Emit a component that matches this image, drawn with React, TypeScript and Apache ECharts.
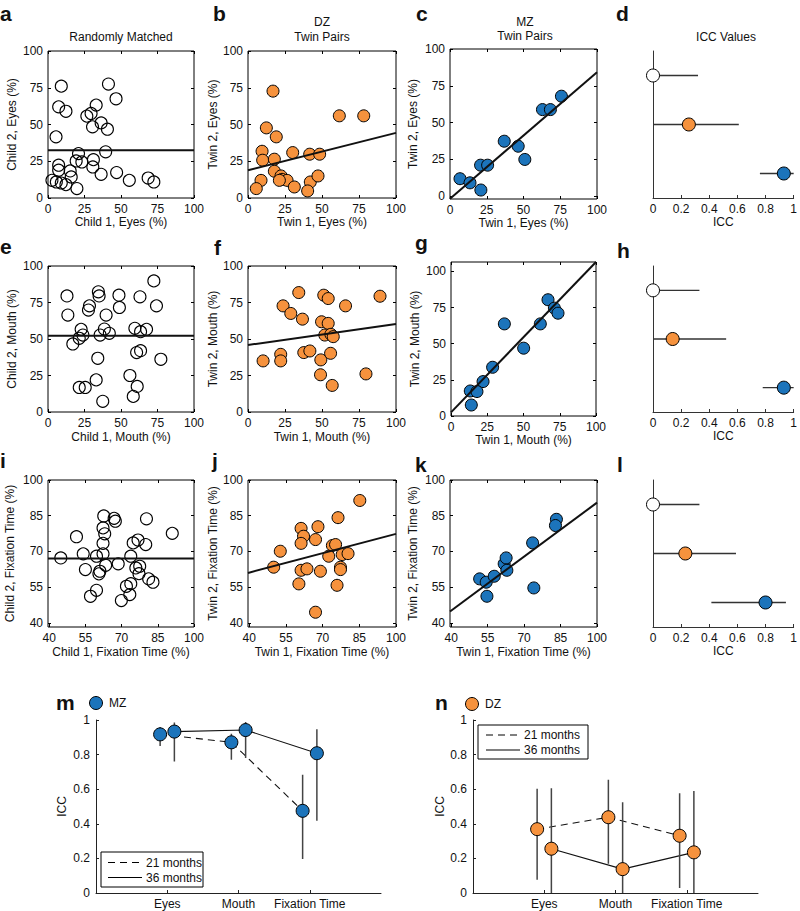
import React, { useEffect, useRef } from "react";
import * as echarts from "echarts";

const FONT = '"Liberation Sans", Arial, Helvetica, sans-serif';
const TXT = "#111";
const ORANGE = "#F6923D";
const BLUE = "#1C74BB";

// ---------- data ----------
const pctTicks = [0, 25, 50, 75, 100];
const fixTicks = [40, 55, 70, 85, 100];

const randEyes = [[9.1,76.1],[7.3,62],[12.3,59],[5.5,41.6],[41.4,77.5],[46.6,67.5],[33,63.2],[29.5,57.5],[26.6,55.7],[36.4,51.1],[30.5,48.4],[40.7,46.8],[39.5,31.4],[20.9,30.2],[31.1,26.1],[23.2,24.5],[19.3,25.2],[7.3,22.3],[7.3,18.9],[15.2,18.4],[30.7,21.1],[15.9,14.3],[36.4,16.1],[47,17.3],[2.7,12],[5.7,10.9],[9.1,10.2],[12.3,9.1],[19.8,6.4],[55.7,12],[68.6,13.6],[72.5,10.9]];
const dzEyes = [[16.9,72.7],[61.7,55.9],[78.2,55.9],[12.4,47.7],[19.1,41.6],[9.5,31.8],[9.9,25.7],[17.8,26.4],[30.2,30.9],[41.7,29.8],[48.4,29.8],[17.8,18.2],[22.3,15],[23,12.7],[26.4,12],[21.2,12],[8.8,12],[5.6,6.4],[31.3,7.5],[42.1,10.9],[47.3,15],[40.3,4.8]];
const mzEyes = [[6.8,11.8],[13.6,9],[21,4.1],[20.8,21],[25.6,21],[36.9,37.3],[46.4,33.9],[50.9,24.9],[62.9,58.8],[68.3,58.8],[75.8,67.9]];

const randMouth = [[13,79.5],[13.6,66.4],[34.5,82.3],[35,79.5],[48.6,80],[48.9,71.6],[28.4,72.7],[27.7,69.8],[39.8,66.4],[72.5,89.8],[63,78.9],[74.3,72.7],[22.7,56.6],[23.9,52.7],[21.4,50.5],[17,46.6],[35.7,52.7],[38.6,56.8],[42,53.9],[59.5,57.3],[63.4,55],[67.5,56.6],[34.1,36.8],[60.7,40.7],[63.4,42],[77.3,36.1],[21.4,16.8],[25.5,16.8],[33,22],[56.1,25],[61.1,17.5],[58.4,10.7],[37.5,7.3]];
const dzMouth = [[34.3,81.8],[23.7,72.7],[28.9,67.5],[36.8,63.6],[51.2,80],[54.2,77.7],[65.9,72.7],[89.2,79.3],[49.7,61.8],[54.2,60.7],[51.9,52.7],[56,53.2],[57.6,51.6],[10.2,35],[22.1,39.5],[22.1,35],[37.7,40.7],[41.8,41.8],[49.2,35.7],[55.8,40.2],[49,25.5],[56.9,18.2],[79.7,26.1]];
const mzMouth = [[66.9,80.4],[71.3,74.6],[73.8,71.1],[36.8,63.7],[61.6,63.7],[50.1,46.9],[28.7,33.7],[22.1,23.8],[13.3,17.3],[17.9,16.9],[14,7.6]];

const randFix = [[44.8,67.3],[51.3,76.2],[54.1,69],[55,62.4],[57.1,51.2],[59.6,53.7],[62.6,84.9],[62.3,79.9],[66.9,83.9],[67.4,82.7],[63,77.4],[62.3,73.4],[59.6,68],[62.3,69],[63.4,64.2],[61,61.7],[60.6,60.6],[68.6,64.8],[69.9,49.4],[80.3,83.7],[91,77.6],[74.8,73.6],[76.8,74.8],[80,72.9],[73.8,68],[75.9,63.1],[77.5,63.8],[77.2,60.7],[81.2,58.5],[83,57.1],[73.8,56.5],[72,55.4],[73.4,51.9]];
const dzFix = [[50,63.4],[52.7,70.1],[61.2,79.7],[62.2,76.4],[61.2,73.4],[68.1,80.4],[67.1,75],[61.2,62.1],[63.6,62.7],[69.1,61.7],[60.3,56.4],[76.3,84.2],[85.2,91.4],[74,72.5],[75.3,72.9],[72.5,68],[78,68.7],[80.4,69.1],[77.3,63.4],[77.3,62.4],[75.9,55.8],[67.1,44.5]];
const mzFix = [[51.7,58.5],[54.4,57.1],[54.7,51.2],[57.7,59.6],[61.8,64.8],[62.6,67.3],[62.9,62.1],[73.5,73.6],[74,54.7],[83.3,83.5],[82.9,80.9]];

// regression line end points
const fitRandEyes = [[0,32.5],[100,32.5]];
const fitDzEyes = [[0,18.9],[100,44.3]];
const fitMzEyes = [[0,-1.8],[100,84.2]];
const fitRandMouth = [[0,52.3],[100,52.3]];
const fitDzMouth = [[0,45.9],[100,60.2]];
const fitMzMouth = [[0,2.5],[100,106.5]];
const fitRandFix = [[39.5,67],[100,67]];
const fitDzFix = [[39.5,61],[100,77.4]];
const fitMzFix = [[39.5,44.8],[100,90.5]];

// ICC values per group: Randomly matched, DZ, MZ
const groups = ["Random", "DZ", "MZ"];
const iccEyes = [0, 0.255, 0.93];
const iccEyesLo = [0, 0, 0.76];
const iccEyesHi = [0.32, 0.61, 1.0];
const iccMouth = [0, 0.14, 0.93];
const iccMouthLo = [0, 0, 0.78];
const iccMouthHi = [0.33, 0.52, 1.0];
const iccFix = [0, 0.23, 0.8];
const iccFixLo = [0, 0, 0.415];
const iccFixHi = [0.33, 0.59, 0.945];

// ICC by age
const measures = ["Eyes", "Mouth", "Fixation Time"];
const mz21 = [0.917, 0.871, 0.475];
const mz21Lo = [0.85, 0.77, 0.196];
const mz21Hi = [0.96, 0.92, 0.683];
const mz36 = [0.933, 0.942, 0.808];
const mz36Lo = [0.76, 0.78, 0.417];
const mz36Hi = [0.985, 0.988, 0.946];
const dz21 = [0.369, 0.438, 0.331];
const dz21Lo = [0.077, 0.169, 0.029];
const dz21Hi = [0.602, 0.654, 0.577];
const dz36 = [0.256, 0.138, 0.235];
const dz36Lo = [0, 0, 0];
const dz36Hi = [0.606, 0.525, 0.59];

function buildOption() {
  const grid: any[] = [];
  const xAxis: any[] = [];
  const yAxis: any[] = [];
  const series: any[] = [];
  const graphic: any[] = [];
  const lbl = { fontSize: 12, color: TXT, fontFamily: FONT };

  const text = (t: string, x: number, y: number, opts: any = {}) => {
    graphic.push({
      type: "text",
      z: 100,
      style: {
        text: t, x, y,
        fill: TXT,
        font: opts.font || `12px ${FONT}`,
        align: opts.align || "center",
        verticalAlign: opts.va || "middle",
        textAlign: opts.align || "center",
        textVerticalAlign: opts.va || "middle",
      },
    });
  };
  const letter = (t: string, x: number, baseline: number) =>
    text(t, x, baseline + 4.5, { font: `bold 21px ${FONT}`, align: "left", va: "bottom" });

  function scatterPanel(p: any) {
    const gi = grid.length;
    grid.push({ left: p.left, top: p.top, width: p.width, height: p.height, show: true, borderColor: "#000", borderWidth: 1, backgroundColor: "transparent" });
    const xi = xAxis.length;
    const yi = yAxis.length;
    const tick = (vals: number[]) => ({ inside: true, length: 3, lineStyle: { color: "#000" }, customValues: vals });
    xAxis.push({
      gridIndex: gi, type: "value", min: p.xMin, max: p.xMax, position: "bottom",
      axisLine: { show: false, onZero: false }, axisTick: tick(p.xTicks),
      axisLabel: { ...lbl, margin: 5, customValues: p.xTicks }, splitLine: { show: false },
      name: p.xName, nameLocation: "middle", nameGap: p.xGap, nameTextStyle: { ...lbl },
    });
    xAxis.push({
      gridIndex: gi, type: "value", min: p.xMin, max: p.xMax, position: "top",
      axisLine: { show: false, onZero: false }, axisTick: tick(p.xTicks),
      axisLabel: { show: false }, splitLine: { show: false },
    });
    yAxis.push({
      gridIndex: gi, type: "value", min: p.yMin, max: p.yMax, position: "left",
      axisLine: { show: false, onZero: false }, axisTick: tick(p.yTicks),
      axisLabel: { ...lbl, margin: 5, customValues: p.yTicks }, splitLine: { show: false },
      name: p.yName, nameLocation: "middle", nameGap: p.yGap, nameTextStyle: { ...lbl },
    });
    yAxis.push({
      gridIndex: gi, type: "value", min: p.yMin, max: p.yMax, position: "right",
      axisLine: { show: false, onZero: false }, axisTick: tick(p.yTicks),
      axisLabel: { show: false }, splitLine: { show: false },
    });
    series.push({
      type: "scatter", xAxisIndex: xi, yAxisIndex: yi, data: p.points, symbolSize: 12,
      itemStyle: p.fill ? { color: p.fill, borderColor: "#000", borderWidth: 1, opacity: 1 } : { color: "rgba(255,255,255,0)", borderColor: "#000", borderWidth: 1.1, opacity: 1 },
      z: 3,
    });
    series.push({
      type: "line", xAxisIndex: xi, yAxisIndex: yi, data: p.fit, symbol: "none",
      lineStyle: { color: "#111", width: 2 }, z: 4, silent: true,
    });
  }

  function iccPanel(p: any) {
    const gi = grid.length;
    grid.push({ left: p.left, top: p.top, width: 145, height: p.height, show: false });
    const xi = xAxis.length;
    const yi = yAxis.length;
    xAxis.push({
      gridIndex: gi, type: "value", min: 0, max: 1, interval: 0.2, position: "bottom",
      axisLine: { show: true, onZero: false, lineStyle: { color: "#333", width: 1 } },
      axisTick: { inside: true, length: 3, lineStyle: { color: "#333" } },
      axisLabel: { ...lbl, margin: 5 }, splitLine: { show: false },
      name: "ICC", nameLocation: "middle", nameGap: 17, nameTextStyle: { ...lbl },
    });
    yAxis.push({
      gridIndex: gi, type: "value", min: 0, max: 3, inverse: true, position: "left",
      axisLine: { show: true, onZero: false, lineStyle: { color: "#333", width: 1 } },
      axisTick: { show: false }, axisLabel: { show: false }, splitLine: { show: false },
    });
    const fills = ["#fff", ORANGE, BLUE];
    groups.forEach((g, i) => {
      series.push({
        type: "line", name: g, xAxisIndex: xi, yAxisIndex: yi, symbol: "none",
        data: [[p.lo[i], i + 0.5], [p.hi[i], i + 0.5]],
        lineStyle: { color: "#333", width: 1.3 }, z: 2, silent: true,
      });
    });
    series.push({
      type: "scatter", xAxisIndex: xi, yAxisIndex: yi, symbolSize: 13, z: 5,
      data: groups.map((g, i) => ({ name: g, value: [p.icc[i], i + 0.5], itemStyle: { color: fills[i] } })),
      itemStyle: { borderColor: "#000", borderWidth: 1, opacity: 1 },
    });
  }

  function agePanel(p: any) {
    const gi = grid.length;
    grid.push({ left: p.left, top: 720, width: 285, height: 173, show: false });
    const xi = xAxis.length;
    const yi = yAxis.length;
    const cats = measures.map((m, i) => i + 1);
    xAxis.push({
      gridIndex: gi, type: "value", min: 0, max: 4, position: "bottom",
      axisLine: { show: true, onZero: false, lineStyle: { color: "#222", width: 1 } },
      axisTick: { inside: true, length: 3, lineStyle: { color: "#222" }, customValues: cats },
      axisLabel: { ...lbl, margin: 5, customValues: cats, formatter: (v: number) => measures[Math.round(v) - 1] || "" },
      splitLine: { show: false },
    });
    yAxis.push({
      gridIndex: gi, type: "value", min: 0, max: 1, interval: 0.2, position: "left",
      axisLine: { show: true, onZero: false, lineStyle: { color: "#222", width: 1 } },
      axisTick: { inside: true, length: 3, lineStyle: { color: "#222" } },
      axisLabel: { ...lbl, margin: 6 }, splitLine: { show: false },
      name: "ICC", nameLocation: "middle", nameGap: p.yGap, nameTextStyle: { ...lbl },
    });
    const off = 0.1;
    const p21 = measures.map((m, i) => [i + 1 - off, p.v21[i]]);
    const p36 = measures.map((m, i) => [i + 1 + off, p.v36[i]]);
    series.push({
      type: "line", name: "21 months", xAxisIndex: xi, yAxisIndex: yi, data: p21, symbol: "none",
      lineStyle: { color: "#111", width: 1.1, type: [7, 5] }, z: 2, silent: true,
    });
    series.push({
      type: "line", name: "36 months", xAxisIndex: xi, yAxisIndex: yi, data: p36, symbol: "none",
      lineStyle: { color: "#111", width: 1.1 }, z: 2, silent: true,
    });
    measures.forEach((m, i) => {
      series.push({
        type: "line", xAxisIndex: xi, yAxisIndex: yi, symbol: "none",
        data: [[i + 1 - off, p.lo21[i]], [i + 1 - off, p.hi21[i]]],
        lineStyle: { color: "#444", width: 1.5 }, z: 3, silent: true,
      });
      series.push({
        type: "line", xAxisIndex: xi, yAxisIndex: yi, symbol: "none",
        data: [[i + 1 + off, p.lo36[i]], [i + 1 + off, p.hi36[i]]],
        lineStyle: { color: "#444", width: 1.5 }, z: 3, silent: true,
      });
    });
    series.push({
      type: "scatter", xAxisIndex: xi, yAxisIndex: yi, symbolSize: 13, z: 5,
      data: [...p21, ...p36],
      itemStyle: { color: p.color, borderColor: "#000", borderWidth: 1, opacity: 1 },
    });
  }

  // Row 1: eyes
  scatterPanel({ left: 48, top: 51, width: 146, height: 147, xMin: 0, xMax: 100, yMin: 0, yMax: 100, xTicks: pctTicks, yTicks: pctTicks, xName: "Child 1, Eyes (%)", yName: "Child 2, Eyes (%)", xGap: 18, yGap: 30, points: randEyes, fit: fitRandEyes, fill: null });
  scatterPanel({ left: 248, top: 51, width: 148, height: 147, xMin: 0, xMax: 100, yMin: 0, yMax: 100, xTicks: pctTicks, yTicks: pctTicks, xName: "Twin 1, Eyes (%)", yName: "Twin 2, Eyes (%)", xGap: 18, yGap: 29, points: dzEyes, fit: fitDzEyes, fill: ORANGE });
  scatterPanel({ left: 450, top: 49, width: 147, height: 150, xMin: 0, xMax: 100, yMin: -2, yMax: 100, xTicks: pctTicks, yTicks: pctTicks, xName: "Twin 1, Eyes (%)", yName: "Twin 2, Eyes (%)", xGap: 17, yGap: 31, points: mzEyes, fit: fitMzEyes, fill: BLUE });
  iccPanel({ left: 653, top: 51, height: 147, icc: iccEyes, lo: iccEyesLo, hi: iccEyesHi });

  // Row 2: mouth
  scatterPanel({ left: 48, top: 266, width: 146, height: 146, xMin: 0, xMax: 100, yMin: 0, yMax: 100, xTicks: pctTicks, yTicks: pctTicks, xName: "Child 1, Mouth (%)", yName: "Child 2, Mouth (%)", xGap: 19, yGap: 30, points: randMouth, fit: fitRandMouth, fill: null });
  scatterPanel({ left: 248, top: 266, width: 148, height: 146, xMin: 0, xMax: 100, yMin: 0, yMax: 100, xTicks: pctTicks, yTicks: pctTicks, xName: "Twin 1, Mouth (%)", yName: "Twin 2, Mouth (%)", xGap: 19, yGap: 28, points: dzMouth, fit: fitDzMouth, fill: ORANGE });
  scatterPanel({ left: 451, top: 262, width: 145, height: 154, xMin: 0, xMax: 100, yMin: 0, yMax: 106.5, xTicks: pctTicks, yTicks: pctTicks, xName: "Twin 1, Mouth (%)", yName: "Twin 2, Mouth (%)", xGap: 15, yGap: 30, points: mzMouth, fit: fitMzMouth, fill: BLUE });
  iccPanel({ left: 653, top: 266, height: 146, icc: iccMouth, lo: iccMouthLo, hi: iccMouthHi });

  // Row 3: fixation time
  scatterPanel({ left: 48, top: 480, width: 146, height: 147, xMin: 39.5, xMax: 100, yMin: 38.3, yMax: 100, xTicks: fixTicks, yTicks: fixTicks, xName: "Child 1, Fixation Time (%)", yName: "Child 2, Fixation Time (%)", xGap: 19, yGap: 32, points: randFix, fit: fitRandFix, fill: null });
  scatterPanel({ left: 248, top: 480, width: 148, height: 147, xMin: 39.5, xMax: 100, yMin: 38.3, yMax: 100, xTicks: fixTicks, yTicks: fixTicks, xName: "Twin 1, Fixation Time (%)", yName: "Twin 2, Fixation Time (%)", xGap: 19, yGap: 27, points: dzFix, fit: fitDzFix, fill: ORANGE });
  scatterPanel({ left: 450, top: 480, width: 147, height: 147, xMin: 39.5, xMax: 100, yMin: 38.3, yMax: 100, xTicks: fixTicks, yTicks: fixTicks, xName: "Twin 1, Fixation Time (%)", yName: "Twin 2, Fixation Time (%)", xGap: 19, yGap: 31, points: mzFix, fit: fitMzFix, fill: BLUE });
  iccPanel({ left: 653, top: 480, height: 147, icc: iccFix, lo: iccFixLo, hi: iccFixHi });

  // Row 4
  agePanel({ left: 96, yGap: 28, color: BLUE, v21: mz21, lo21: mz21Lo, hi21: mz21Hi, v36: mz36, lo36: mz36Lo, hi36: mz36Hi });
  agePanel({ left: 473, yGap: 25, color: ORANGE, v21: dz21, lo21: dz21Lo, hi21: dz21Hi, v36: dz36, lo36: dz36Lo, hi36: dz36Hi });

  // titles
  text("Randomly Matched", 121, 37);
  text("DZ", 322, 22);
  text("Twin Pairs", 322, 37);
  text("MZ", 525, 22);
  text("Twin Pairs", 525, 36);
  text("ICC Values", 726, 37);

  // panel letters
  letter("a", 0, 19);
  letter("b", 213, 19);
  letter("c", 416, 19);
  letter("d", 616, 19);
  letter("e", 0, 252);
  letter("f", 214, 253);
  letter("g", 415, 248);
  letter("h", 617, 256);
  letter("i", 0, 466);
  letter("j", 212, 466);
  letter("k", 415, 470);
  letter("l", 617, 470);
  letter("m", 56, 708);
  letter("n", 435, 708);

  // group markers next to m / n
  graphic.push({ type: "circle", z: 100, shape: { cx: 96, cy: 703, r: 6.5 }, style: { fill: BLUE, stroke: "#000", lineWidth: 1 } });
  text("MZ", 109, 703, { align: "left" });
  graphic.push({ type: "circle", z: 100, shape: { cx: 472, cy: 704, r: 6.5 }, style: { fill: ORANGE, stroke: "#000", lineWidth: 1 } });
  text("DZ", 485, 704, { align: "left" });

  // line-style keys
  const key = (bx: number, by: number, bw: number, bh: number, lx1: number, lx2: number, tx: number, y1: number, y2: number) => {
    graphic.push({ type: "rect", z: 100, shape: { x: bx, y: by, width: bw, height: bh }, style: { fill: "#fff", stroke: "#000", lineWidth: 1 } });
    graphic.push({ type: "line", z: 101, shape: { x1: lx1, y1, x2: lx2, y2: y1 }, style: { stroke: "#000", lineWidth: 1, lineDash: [7, 5] } });
    graphic.push({ type: "line", z: 101, shape: { x1: lx1, y1: y2, x2: lx2, y2 }, style: { stroke: "#000", lineWidth: 1 } });
    text("21 months", tx, y1, { align: "left" });
    text("36 months", tx, y2, { align: "left" });
  };
  key(101, 852, 102, 35, 108, 142, 146, 862.5, 877.5);
  key(478, 725, 110, 34, 486, 520, 524, 735, 750);

  return {
    animation: false,
    backgroundColor: "#fff",
    textStyle: { fontFamily: FONT },
    grid, xAxis, yAxis, series, graphic,
  };
}

export default function App() {
  const ref = useRef<HTMLDivElement>(null);
  useEffect(() => {
    if (!ref.current) return;
    const chart = echarts.init(ref.current, undefined, { renderer: "svg" });
    chart.setOption(buildOption() as any);
    return () => chart.dispose();
  }, []);
  return <div ref={ref} style={{ position: "absolute", left: 0, top: 0, width: 800, height: 911 }} />;
}
